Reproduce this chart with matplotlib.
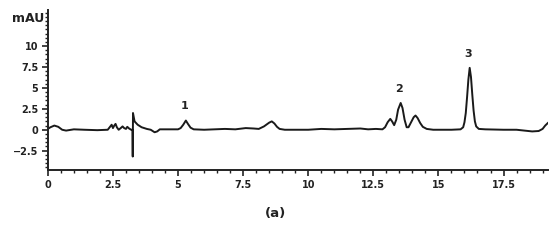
import matplotlib
matplotlib.use("Agg")
import matplotlib.pyplot as plt
from matplotlib.ticker import MultipleLocator

# chromatogram trace (time in min, signal in mAU)
time = [0.0, 0.1, 0.25, 0.4, 0.55, 0.7, 1.0, 1.4, 1.9, 2.3, 2.4, 2.45, 2.5, 2.55,
        2.6, 2.65, 2.72, 2.8, 2.87, 2.93, 3.0, 3.05, 3.12, 3.2, 3.25, 3.26, 3.27,
        3.33, 3.45, 3.6, 3.8, 3.95, 4.1, 4.2, 4.3, 4.8,
        5.0, 5.1, 5.2, 5.3, 5.38, 5.48, 5.6, 6.0, 6.8, 7.2, 7.6, 7.9,
        8.1, 8.3, 8.5, 8.6, 8.7, 8.8, 8.9, 9.1, 10.0, 10.5, 11.0, 11.5, 12.0,
        12.3, 12.6, 12.85, 12.95, 13.05, 13.15, 13.22, 13.3, 13.38, 13.45, 13.55,
        13.62, 13.7, 13.78, 13.85, 13.95, 14.05, 14.12, 14.2, 14.3, 14.4, 14.55,
        14.8, 15.5, 15.85, 15.95, 16.0, 16.05, 16.1, 16.15, 16.2, 16.25, 16.3,
        16.35, 16.4, 16.45, 16.55, 16.8, 17.5, 18.0, 18.3, 18.6, 18.85, 19.0,
        19.1, 19.2]
signal = [0.1, 0.3, 0.5, 0.35, 0.0, -0.1, 0.05, 0.0, -0.05, 0.0, 0.4, 0.6, 0.2, 0.5,
          0.7, 0.3, 0.0, 0.2, 0.4, 0.2, 0.1, 0.35, 0.15, 0.0, 0.0, -3.2, 2.0,
          1.0, 0.6, 0.3, 0.1, 0.0, -0.3, -0.2, 0.05, 0.05,
          0.05, 0.2, 0.6, 1.1, 0.7, 0.25, 0.05, 0.0, 0.1, 0.05, 0.2, 0.15,
          0.1, 0.4, 0.85, 1.0, 0.75, 0.35, 0.1, 0.0, 0.0, 0.1, 0.05, 0.1, 0.15,
          0.05, 0.1, 0.05, 0.3, 0.9, 1.3, 1.0, 0.55, 1.2, 2.4, 3.2,
          2.6, 1.2, 0.3, 0.3, 0.9, 1.5, 1.7, 1.4, 0.8, 0.35, 0.1,
          0.0, 0.0, 0.05, 0.3, 0.9, 2.0, 3.9, 6.0, 7.4, 6.3, 4.2,
          2.3, 1.0, 0.4, 0.1, 0.05, 0.0, 0.0, -0.1, -0.2, -0.15, 0.1,
          0.5, 0.8]

peak_names = ["1", "2", "3"]
peak_time = [5.3, 13.55, 16.2]
peak_height = [1.1, 3.2, 7.4]

y_ticks = [-2.5, 0, 2.5, 5, 7.5, 10]
x_ticks = [0, 2.5, 5, 7.5, 10, 12.5, 15, 17.5]

fig = plt.figure(figsize=(5.5, 2.4), dpi=100)
ax = fig.add_axes([0.087, 0.292, 0.909, 0.666])

ax.plot(time, signal, color="#1a1a1a", lw=1.4)

for name, t, h in zip(peak_names, peak_time, peak_height):
    ax.text(t - 0.05, h + 1.1, name, ha="center", va="bottom",
            fontsize=8, fontweight="bold", color="#222222")

ax.set_xlim(0, 19.2)
ax.set_ylim(-4.8, 14.3)
ax.set_xticks(x_ticks)
ax.set_xticklabels([f"{v:g}" for v in x_ticks])
ax.set_yticks(y_ticks)
ax.set_yticklabels([f"{v:g}".replace("-", "\u2212") for v in y_ticks])
ax.xaxis.set_minor_locator(MultipleLocator(0.5))
ax.yaxis.set_minor_locator(MultipleLocator(0.5))

for s in ["top", "right"]:
    ax.spines[s].set_visible(False)
for s in ["left", "bottom"]:
    ax.spines[s].set_linewidth(1.4)
    ax.spines[s].set_color("#222222")

ax.tick_params(which="major", length=4, width=1.2, labelsize=7, pad=3,
               colors="#222222")
ax.tick_params(which="minor", length=2.5, width=1.0, colors="#222222")
for lbl in ax.get_xticklabels() + ax.get_yticklabels():
    lbl.set_family(["Liberation Sans Narrow", "DejaVu Sans"])
    lbl.set_fontweight("bold")

fig.text(0.052, 0.922, "mAU", ha="center", va="center", fontsize=9,
         fontweight="bold", color="#222222")
fig.text(0.5, 0.11, "(a)", ha="center", va="center", fontsize=9.5,
         fontweight="bold", color="#222222")

fig.savefig("out.png", dpi=100)
